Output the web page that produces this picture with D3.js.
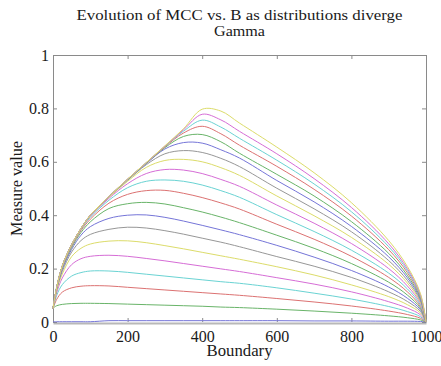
<!DOCTYPE html>
<html>
<head>
<meta charset="utf-8">
<script src="https://cdn.jsdelivr.net/npm/d3@7"></script>
<style>
  body { margin: 0; background: #fff; }
  text { font-family: "Liberation Serif", "DejaVu Serif", serif; fill: #1a1a1a; }
</style>
</head>
<body>
<div class="canvas_mcc"></div>
<script>
const boundary = [0, 10, 25, 50, 75, 100, 150, 200, 250, 300, 350, 400, 450, 500, 600, 700, 800, 900, 950, 985, 1000];

// MCC value per curve, one array per divergence step
const mcc01 = [0.001, 0.001, 0.001, 0.001, 0.001, 0.001, 0.005, 0.005, 0.005, 0.005, 0.005, 0.005, 0.005, 0.005, 0.005, 0.004, 0.004, 0.003, 0.003, 0.002, 0];
const mcc02 = [0.052, 0.061, 0.066, 0.069, 0.070, 0.070, 0.069, 0.067, 0.065, 0.063, 0.061, 0.059, 0.056, 0.054, 0.048, 0.041, 0.033, 0.023, 0.016, 0.008, 0];
const mcc03 = [0.05, 0.085, 0.112, 0.128, 0.134, 0.136, 0.135, 0.130, 0.125, 0.120, 0.115, 0.110, 0.105, 0.100, 0.088, 0.075, 0.060, 0.041, 0.028, 0.014, 0];
const mcc04 = [0.05, 0.10, 0.14, 0.172, 0.185, 0.191, 0.191, 0.186, 0.179, 0.172, 0.165, 0.158, 0.151, 0.145, 0.128, 0.108, 0.086, 0.058, 0.039, 0.020, 0];
const mcc05 = [0.05, 0.11, 0.165, 0.215, 0.237, 0.246, 0.250, 0.246, 0.238, 0.229, 0.219, 0.209, 0.199, 0.189, 0.166, 0.142, 0.113, 0.076, 0.052, 0.027, 0];
const mcc06 = [0.05, 0.118, 0.18, 0.245, 0.276, 0.292, 0.303, 0.304, 0.297, 0.286, 0.274, 0.261, 0.248, 0.235, 0.207, 0.176, 0.139, 0.095, 0.065, 0.034, 0];
const mcc07 = [0.05, 0.122, 0.19, 0.262, 0.305, 0.328, 0.347, 0.355, 0.352, 0.342, 0.329, 0.314, 0.299, 0.282, 0.245, 0.209, 0.167, 0.113, 0.077, 0.040, 0];
const mcc08 = [0.05, 0.125, 0.198, 0.272, 0.325, 0.357, 0.388, 0.400, 0.401, 0.392, 0.378, 0.362, 0.345, 0.327, 0.287, 0.243, 0.193, 0.131, 0.089, 0.046, 0];
const mcc09 = [0.05, 0.127, 0.203, 0.279, 0.335, 0.375, 0.425, 0.443, 0.448, 0.442, 0.428, 0.412, 0.393, 0.372, 0.325, 0.276, 0.219, 0.149, 0.101, 0.052, 0];
const mcc10 = [0.05, 0.128, 0.206, 0.283, 0.342, 0.385, 0.445, 0.478, 0.492, 0.493, 0.482, 0.466, 0.446, 0.423, 0.366, 0.310, 0.246, 0.167, 0.113, 0.058, 0];
const mcc11 = [0.05, 0.129, 0.208, 0.286, 0.346, 0.392, 0.456, 0.503, 0.527, 0.532, 0.527, 0.513, 0.492, 0.467, 0.402, 0.339, 0.269, 0.183, 0.124, 0.064, 0];
const mcc12 = [0.05, 0.13, 0.209, 0.288, 0.348, 0.396, 0.463, 0.518, 0.556, 0.571, 0.569, 0.556, 0.534, 0.508, 0.438, 0.370, 0.294, 0.200, 0.135, 0.070, 0];
const mcc13 = [0.05, 0.13, 0.21, 0.289, 0.349, 0.398, 0.467, 0.527, 0.579, 0.605, 0.609, 0.600, 0.578, 0.549, 0.472, 0.398, 0.317, 0.216, 0.146, 0.075, 0];
const mcc14 = [0.05, 0.13, 0.21, 0.29, 0.35, 0.399, 0.469, 0.531, 0.589, 0.630, 0.642, 0.635, 0.613, 0.582, 0.501, 0.424, 0.338, 0.230, 0.156, 0.080, 0];
const mcc15 = [0.05, 0.13, 0.21, 0.29, 0.35, 0.40, 0.47, 0.533, 0.593, 0.648, 0.672, 0.670, 0.645, 0.614, 0.530, 0.450, 0.358, 0.244, 0.166, 0.085, 0];
const mcc16 = [0.05, 0.13, 0.21, 0.29, 0.35, 0.40, 0.47, 0.534, 0.595, 0.653, 0.695, 0.702, 0.675, 0.632, 0.553, 0.472, 0.376, 0.257, 0.175, 0.090, 0];
const mcc17 = [0.05, 0.13, 0.21, 0.29, 0.35, 0.40, 0.47, 0.535, 0.596, 0.656, 0.708, 0.733, 0.705, 0.662, 0.583, 0.497, 0.397, 0.271, 0.185, 0.095, 0];
const mcc18 = [0.05, 0.13, 0.21, 0.29, 0.35, 0.40, 0.47, 0.535, 0.597, 0.658, 0.715, 0.756, 0.730, 0.688, 0.606, 0.517, 0.413, 0.282, 0.193, 0.099, 0];
const mcc19 = [0.05, 0.13, 0.21, 0.29, 0.35, 0.40, 0.47, 0.535, 0.597, 0.659, 0.720, 0.778, 0.757, 0.714, 0.630, 0.537, 0.429, 0.293, 0.200, 0.103, 0];
const mcc20 = [0.05, 0.13, 0.21, 0.29, 0.35, 0.40, 0.47, 0.535, 0.597, 0.660, 0.724, 0.797, 0.790, 0.745, 0.655, 0.559, 0.447, 0.305, 0.208, 0.107, 0];

const curves = [mcc01, mcc02, mcc03, mcc04, mcc05, mcc06, mcc07, mcc08, mcc09, mcc10,
                mcc11, mcc12, mcc13, mcc14, mcc15, mcc16, mcc17, mcc18, mcc19, mcc20];

// b g r c m y k cycle, thin lines look washed out
const lineColors = ['#7575d8', '#69b469', '#dc7272', '#6ad3d3', '#d66dd6', '#dcdc6a', '#979797'];

const xTicks = [0, 200, 400, 600, 800, 1000];
const yTicks = [0, 0.2, 0.4, 0.6, 0.8, 1];

const dims = {'width': 441, 'height': 366};
const margin = {'left': 53, 'top': 55, 'right': 15, 'bottom': 44};
const w = dims.width - margin.left - margin.right;
const h = dims.height - margin.top - margin.bottom;
const fontStack = '"Liberation Serif", "DejaVu Serif", serif';

const svg = d3.select('.canvas_mcc')
  .append('svg')
  .attr('width', dims.width)
  .attr('height', dims.height);

svg.append('rect').attr('width', dims.width).attr('height', dims.height).attr('fill', '#fff');

const graph = svg.append('g')
  .attr('transform', `translate(${margin.left},${margin.top})`);

const x = d3.scaleLinear().domain([0, 1000]).range([0, w]);
const y = d3.scaleLinear().domain([0, 1]).range([h, 0]);

// axes, ticks pointing inward on all four sides
const fmt = d => String(d);
const bottomAxis = graph.append('g').attr('transform', `translate(0,${h})`)
  .call(d3.axisBottom(x).tickValues(xTicks).tickFormat(fmt).tickSizeInner(-4).tickSizeOuter(0).tickPadding(9));
const leftAxis = graph.append('g')
  .call(d3.axisLeft(y).tickValues(yTicks).tickFormat(fmt).tickSizeInner(-4).tickSizeOuter(0).tickPadding(4));
const topAxis = graph.append('g')
  .call(d3.axisTop(x).tickValues(xTicks).tickFormat('').tickSizeInner(-4).tickSizeOuter(0));
const rightAxis = graph.append('g').attr('transform', `translate(${w},0)`)
  .call(d3.axisRight(y).tickValues(yTicks).tickFormat('').tickSizeInner(-4).tickSizeOuter(0));

[bottomAxis, leftAxis, topAxis, rightAxis].forEach(a => {
  a.selectAll('path').attr('stroke', '#8a8a8a');
  a.selectAll('line').attr('stroke', '#8a8a8a');
  a.selectAll('text').style('font-family', fontStack).style('font-size', '16px').attr('fill', '#1a1a1a');
});
bottomAxis.select('path').attr('stroke', '#b8b8b8').attr('stroke-width', 2).attr('transform', 'translate(0,1)');

// curves
const line = d3.line()
  .x((d, i) => x(boundary[i]))
  .y(d => y(d))
  .curve(d3.curveCatmullRom.alpha(0.5));

graph.selectAll('path.mcc')
  .data(curves)
  .enter().append('path')
  .attr('class', 'mcc')
  .attr('d', line)
  .attr('fill', 'none')
  .attr('stroke', (d, i) => lineColors[i % lineColors.length])
  .attr('stroke-width', 1);

// titles and labels
svg.append('text')
  .attr('x', margin.left + w / 2).attr('y', 20)
  .attr('text-anchor', 'middle')
  .attr('textLength', 326).attr('lengthAdjust', 'spacingAndGlyphs')
  .style('font-size', '15px')
  .text('Evolution of MCC vs. B as distributions diverge');

svg.append('text')
  .attr('x', margin.left + w / 2).attr('y', 36)
  .attr('text-anchor', 'middle')
  .attr('textLength', 51).attr('lengthAdjust', 'spacingAndGlyphs')
  .style('font-size', '15px')
  .text('Gamma');

svg.append('text')
  .attr('x', margin.left + w / 2).attr('y', 356)
  .attr('text-anchor', 'middle')
  .attr('textLength', 66).attr('lengthAdjust', 'spacingAndGlyphs')
  .style('font-size', '16px')
  .text('Boundary');

svg.append('text')
  .attr('transform', `translate(22,${margin.top + h / 2}) rotate(-90)`)
  .attr('text-anchor', 'middle')
  .attr('textLength', 95).attr('lengthAdjust', 'spacingAndGlyphs')
  .style('font-size', '16px')
  .text('Measure value');
</script>
</body>
</html>
